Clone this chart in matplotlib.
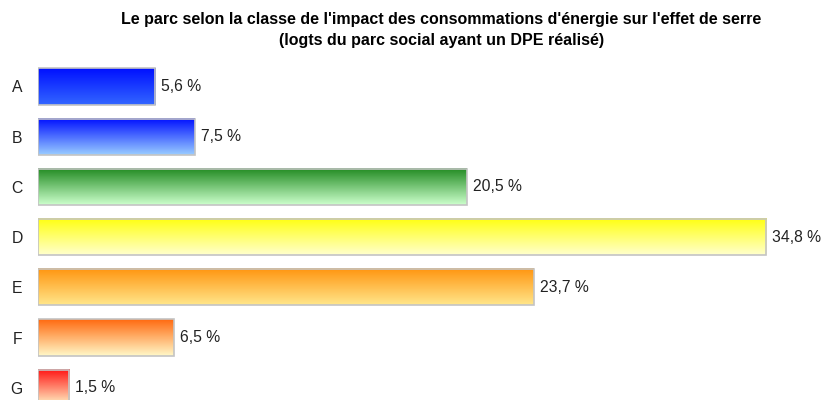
import numpy as np
import matplotlib
matplotlib.use("Agg")
import matplotlib.pyplot as plt
from matplotlib.patches import Rectangle
from matplotlib.colors import to_rgb
from matplotlib import font_manager

categories = ["A", "B", "C", "D", "E", "F", "G"]
values = [5.6, 7.5, 20.5, 34.8, 23.7, 6.5, 1.5]
value_labels = ["5,6 %", "7,5 %", "20,5 %", "34,8 %", "23,7 %", "6,5 %", "1,5 %"]
top_colors = ["#0010FF", "#0010FF", "#228B22", "#FFFF10", "#FF9510", "#FF6A10", "#FF1515"]
bottom_colors = ["#3366FF", "#99CCFF", "#CCFFCC", "#FFFFCC", "#FFE68A", "#FFF8C8", "#FFF8C8"]
title_lines = ["Le parc selon la classe de l'impact des consommations d'énergie sur l'effet de serre",
               "(logts du parc social ayant un DPE réalisé)"]

names = {f.name for f in font_manager.fontManager.ttflist}
title_font = "Liberation Sans Narrow" if "Liberation Sans Narrow" in names else "Liberation Sans"

W, H = 826, 400
fig = plt.figure(figsize=(W / 100, H / 100), dpi=100)
px_per_unit = 20.92
ax_left = 38
ax_width = 774
top_px = 61.4
ax = fig.add_axes([ax_left / W, 0, ax_width / W, (H - top_px) / H])

bar_h = 0.72
for i, (v, c0, c1) in enumerate(zip(values, top_colors, bottom_colors)):
    t = np.linspace(0, 1, 64)[:, None]
    a = np.array(to_rgb(c0))
    b = np.array(to_rgb(c1))
    grad = (a * (1 - t) + b * t)[:, None, :]
    ax.imshow(grad, extent=(0, v, i + bar_h / 2, i - bar_h / 2), aspect="auto",
              origin="upper", interpolation="bilinear", zorder=2)
    ax.add_patch(Rectangle((0, i - bar_h / 2), v, bar_h, fill=False,
                           edgecolor="#C4C4C4", linewidth=1.2, zorder=3))
    ax.text(v + 6 / px_per_unit, i, value_labels[i], va="center", ha="left",
            fontsize=11.3, family="Liberation Sans", color="#222222")

ax.set_yticks(range(len(categories)))
ax.set_yticklabels(categories, family="Liberation Sans", fontsize=11.3, color="#222222")
ax.tick_params(axis="y", length=0, pad=11)
ax.set_xticks([])
for s in ax.spines.values():
    s.set_visible(False)
ax.set_xlim(0, ax_width / px_per_unit)
ax.set_ylim((H - 86.5) / 50.2, -0.5)

fig.text(441.5 / W, 1 - 19.5 / H, title_lines[0], ha="center", va="center", fontsize=11.5,
         fontweight="bold", family=title_font)
fig.text(441.5 / W, 1 - 40.5 / H, title_lines[1], ha="center", va="center", fontsize=11.5,
         fontweight="bold", family=title_font)

fig.savefig("out.png", dpi=100)
